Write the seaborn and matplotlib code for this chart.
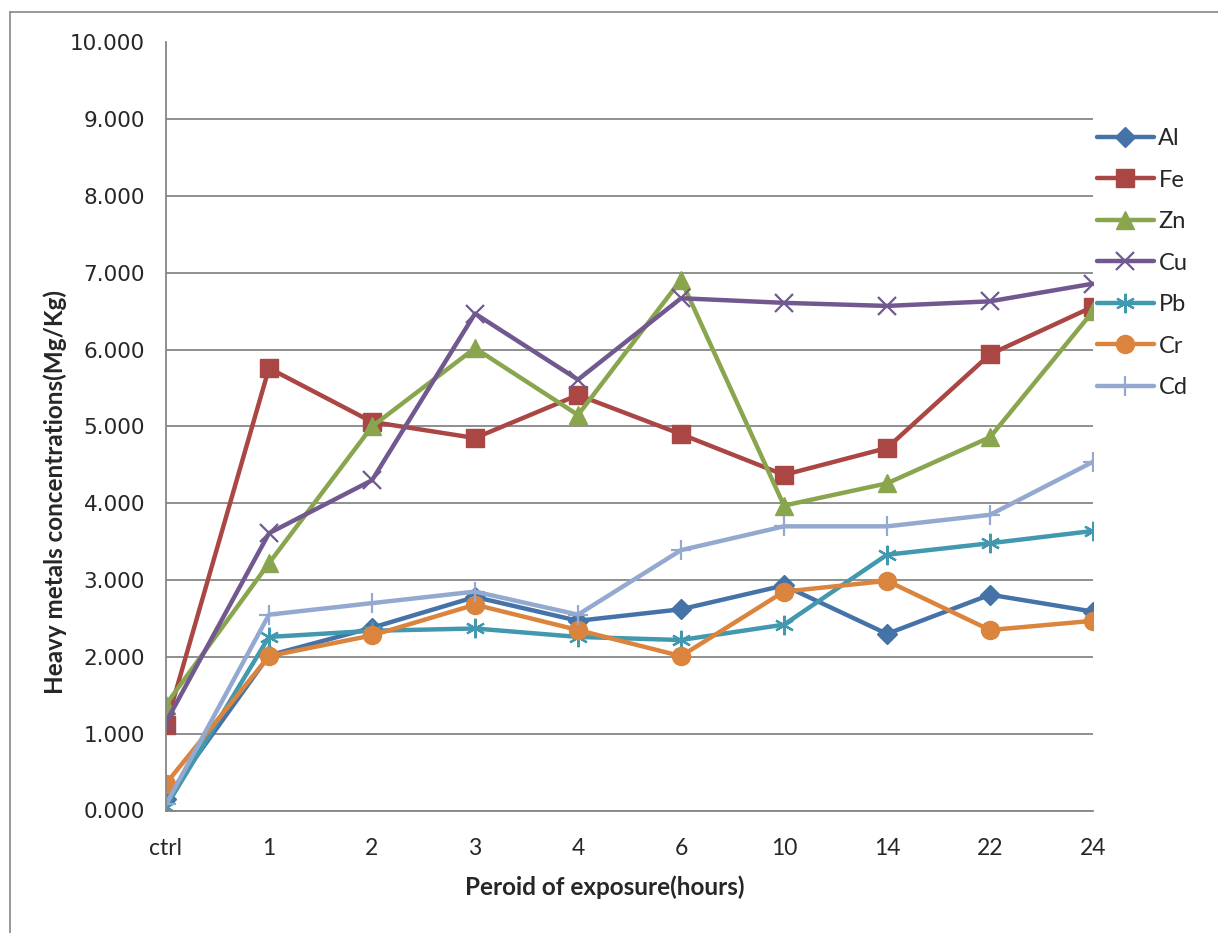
import numpy as np
import pandas as pd
import matplotlib
matplotlib.use('Agg')
import matplotlib.pyplot as plt
from matplotlib.lines import Line2D
import seaborn as sns

# data
periods = ['ctrl', '1', '2', '3', '4', '6', '10', '14', '22', '24']
al = [0.15, 2.02, 2.38, 2.78, 2.47, 2.62, 2.93, 2.30, 2.81, 2.59]
fe = [1.11, 5.76, 5.06, 4.85, 5.41, 4.90, 4.37, 4.72, 5.94, 6.56]
zn = [1.38, 3.22, 5.00, 6.02, 5.15, 6.91, 3.97, 4.26, 4.86, 6.50]
cu = [1.15, 3.61, 4.30, 6.47, 5.61, 6.67, 6.61, 6.57, 6.63, 6.86]
pb = [0.05, 2.26, 2.34, 2.37, 2.26, 2.22, 2.42, 3.33, 3.48, 3.64]
cr = [0.35, 2.01, 2.28, 2.68, 2.35, 2.01, 2.85, 2.99, 2.35, 2.47]
cd = [0.08, 2.55, 2.70, 2.85, 2.55, 3.39, 3.70, 3.70, 3.85, 4.54]

metals = ['Al', 'Fe', 'Zn', 'Cu', 'Pb', 'Cr', 'Cd']
series = [al, fe, zn, cu, pb, cr, cd]
colors = ['#4572A7', '#AA4643', '#89A54E', '#71588F', '#4198AF', '#DB843D', '#93A9CF']
markers = ['D', 's', '^', 'x', (6, 2, 0), 'o', '+']
msizes = [10, 13, 13, 13, 14, 13, 14]
mews = [1, 1, 1, 1.6, 1.6, 1, 1.6]

sns.set_style('white')
plt.rcParams['font.family'] = ['Lato', 'DejaVu Sans']

fig = plt.figure(figsize=(12.18, 9.33), dpi=100)
ax = fig.add_axes([166 / 1218, 1 - 810.5 / 933, (1093 - 166) / 1218, 768 / 933])

for name, vals, c, m, ms, mew in zip(metals, series, colors, markers, msizes, mews):
    df = pd.DataFrame({'period': periods, 'value': vals})
    sns.lineplot(data=df, x='period', y='value', ax=ax, color=c, lw=3.2,
                 marker=m, markersize=ms, markeredgecolor=c, markerfacecolor=c,
                 markeredgewidth=mew, label=name, sort=False)

ax.set_xlim(0, 9)
ax.set_ylim(0, 10)
ax.set_yticks(np.arange(0, 11, 1))
ax.set_yticklabels(['%.3f' % v for v in np.arange(0, 11, 1)], family='DejaVu Sans', fontsize=15.5)
ax.tick_params(axis='x', labelsize=16.5, length=7, width=1.2, color='#868686', direction='out', pad=13)
ax.tick_params(axis='y', length=7, width=1.2, color='#868686', direction='out', pad=8)
ax.yaxis.grid(True, color='#868686', lw=1.3)
ax.xaxis.grid(False)
for s in ['top', 'right']:
    ax.spines[s].set_visible(False)
for s in ['left', 'bottom']:
    ax.spines[s].set_color('#868686')
    ax.spines[s].set_linewidth(1.3)

ax.set_xlabel('Peroid of exposure(hours)', fontsize=17.5, fontweight='bold')
ax.set_ylabel('Heavy metals concentrations(Mg/Kg)', fontsize=17.5, fontweight='bold')
ax.xaxis.set_label_coords((605 - 166) / 927, (810.5 - 875) / 768)
ax.yaxis.set_label_coords((67 - 166) / 927, (810.5 - 492) / 768)

ax.legend(loc='upper left', bbox_to_anchor=(1097 / 1218, 1 - 128 / 933),
          bbox_transform=fig.transFigure, frameon=False, fontsize=17,
          handlelength=2.4, labelspacing=0.87, handletextpad=0.2,
          borderpad=0, borderaxespad=0)

# outer chart border
fig.add_artist(Line2D([10 / 1218, 10 / 1218], [0, 1 - 12 / 933], color='#868686', lw=1.2))
fig.add_artist(Line2D([10 / 1218, 1], [1 - 12 / 933, 1 - 12 / 933], color='#868686', lw=1.2))

fig.savefig('out.png', dpi=100)
